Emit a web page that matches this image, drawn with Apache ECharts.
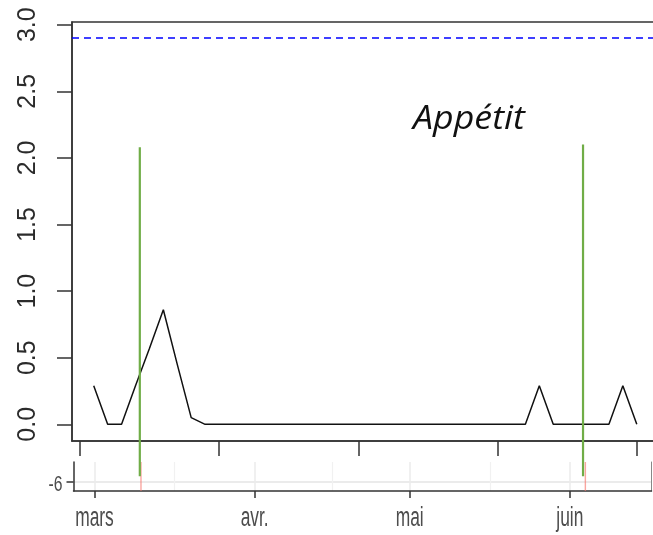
<!DOCTYPE html>
<html>
<head>
<meta charset="utf-8">
<script src="https://cdn.jsdelivr.net/npm/echarts@6/dist/echarts.min.js"></script>
<style>
html, body { margin: 0; padding: 0; background: #fff; }
#chart { width: 653px; height: 535px; }
</style>
</head>
<body>
<div id="chart"></div>
<script>
// Appetite score for each observation (index 1..40)
const obsIndex = Array.from({ length: 40 }, (_, i) => i + 1);
const appetite = [
  0.29, 0, 0, 0.29, 0.57, 0.86, 0.45, 0.05,
  0, 0, 0, 0, 0, 0, 0, 0, 0, 0, 0, 0, 0, 0, 0, 0, 0, 0, 0, 0, 0, 0, 0, 0,
  0.29, 0, 0, 0, 0, 0, 0.29, 0
];
const alertLevel = 2.9;

// Events marked on the upper panel (observation position, top of the marker)
const eventIndex = [4.31, 36.14];
const eventTop = [2.08, 2.1];
const eventBottom = -0.39;

// Upper panel ticks
const upperYTicks = [0, 0.5, 1, 1.5, 2, 2.5, 3];
const upperXTicks = [0, 10, 20, 30, 40];

// Lower time strip
const monthDates = ['2021-03-01', '2021-04-01', '2021-05-01', '2021-06-01'];
const monthLabels = ['mars', 'avr.', 'mai', 'juin'];
const midMonthDates = ['2021-03-16T12:00:00', '2021-04-16T00:00:00', '2021-05-16T12:00:00'];
const eventDates = ['2021-03-10', '2021-06-04'];
const stripYTicks = [-6];
const stripYTickLabels = ['-6'];

const ts = s => new Date(s.length === 10 ? s + 'T00:00:00' : s).getTime();
const DAY = 864e5;
const monthTs = monthDates.map(ts);
const stripMin = monthTs[0] - 4.06 * DAY;
const stripMax = monthTs[0] + 107.8 * DAY;
const stripYMin = -7, stripYMax = -4;

const chart = echarts.init(document.getElementById('chart'), null, { renderer: 'canvas' });

const series = [
  {
    type: 'line',
    xAxisIndex: 0, yAxisIndex: 0,
    data: obsIndex.map((x, i) => [x, appetite[i]]),
    showSymbol: false,
    lineStyle: { color: '#111', width: 1.5 },
    z: 4,
    markLine: {
      silent: true,
      symbol: ['none', 'none'],
      label: { show: false },
      lineStyle: { color: '#0000ff', type: [7, 5], width: 1.5 },
      data: [{ yAxis: alertLevel }]
    }
  }
];

// pale red event markers in the time strip
eventDates.forEach(d => {
  series.push({
    type: 'line',
    xAxisIndex: 1, yAxisIndex: 1,
    data: [[ts(d), stripYMin], [ts(d), stripYMax]],
    showSymbol: false,
    lineStyle: { color: 'rgba(248,118,109,0.65)', width: 1.4 },
    z: 3
  });
});

// green event markers reaching down from the upper panel
eventIndex.forEach((x, i) => {
  series.push({
    type: 'line',
    xAxisIndex: 0, yAxisIndex: 0,
    data: [[x, eventTop[i]], [x, eventBottom]],
    showSymbol: false,
    clip: false,
    lineStyle: { color: '#70AD47', width: 2.2 },
    z: 6
  });
});

chart.setOption({
  animation: false,
  backgroundColor: '#fff',
  grid: [
    { left: 72, top: 22, width: 586.5, height: 419, outerBoundsMode: 'none', show: true, borderColor: '#333', borderWidth: 1.5, backgroundColor: 'transparent' },
    { left: 73.5, top: 462, width: 578, height: 29, outerBoundsMode: 'none' }
  ],
  xAxis: [
    {
      type: 'value', gridIndex: 0, min: -0.56, max: 41.56,
      axisLine: { show: true, onZero: false, lineStyle: { color: '#333', width: 1.5 } },
      axisTick: { show: true, customValues: upperXTicks, length: 15, lineStyle: { color: '#333', width: 1.5 } },
      axisLabel: { show: false },
      splitLine: { show: false }
    },
    {
      // timestamps on a numeric axis; month names are drawn below as stretched text
      type: 'value', gridIndex: 1, min: stripMin, max: stripMax,
      axisLine: { show: true, onZero: false, lineStyle: { color: '#333', width: 1.5 } },
      axisTick: { show: true, customValues: monthTs, length: 7, lineStyle: { color: '#333', width: 1.5 } },
      axisLabel: { show: false, customValues: monthTs },
      splitLine: { show: true, lineStyle: { color: '#ebebeb', width: 1.5 } }
    },
    {
      type: 'value', gridIndex: 1, min: stripMin, max: stripMax,
      axisLine: { show: false },
      axisTick: { show: false, customValues: midMonthDates.map(ts) },
      axisLabel: { show: false, customValues: midMonthDates.map(ts) },
      splitLine: { show: true, lineStyle: { color: '#f1f1f1', width: 1.2 } }
    }
  ],
  yAxis: [
    {
      type: 'value', gridIndex: 0, min: -0.125, max: 3.02,
      axisLine: { show: true, onZero: false, lineStyle: { color: '#333', width: 1.5 } },
      axisTick: { show: true, customValues: upperYTicks, length: 15, lineStyle: { color: '#333', width: 1.5 } },
      axisLabel: {
        show: true, customValues: upperYTicks, rotate: 90, margin: 31,
        formatter: v => v.toFixed(1),
        fontFamily: '"Liberation Sans", Arial, sans-serif', fontSize: 25, color: '#2b2b2b'
      },
      splitLine: { show: false }
    },
    {
      type: 'value', gridIndex: 1, min: stripYMin, max: stripYMax,
      axisLine: { show: true, onZero: false, lineStyle: { color: '#333', width: 1.5 } },
      axisTick: { show: true, customValues: stripYTicks, length: 7, lineStyle: { color: '#333', width: 1.5 } },
      axisLabel: { show: false, customValues: stripYTicks },
      splitLine: { show: true, lineStyle: { color: '#ebebeb', width: 2 } }
    },
    {
      type: 'value', gridIndex: 1, position: 'right', min: stripYMin, max: stripYMax,
      axisLine: { show: true, onZero: false, lineStyle: { color: '#888', width: 1 } },
      axisTick: { show: false },
      axisLabel: { show: false },
      splitLine: { show: false }
    }
  ],
  series: series
});

// Tick labels of the time strip: tall, narrow lettering placed at the axis positions
const stripFont = '17.4px "Liberation Sans", Arial, sans-serif';
const stripTextColor = '#4d4d4d';
const stripAxisBottom = chart.convertToPixel({ yAxisIndex: 1 }, stripYMin);
const stripAxisLeft = chart.convertToPixel({ xAxisIndex: 1 }, stripMin);
const labelGraphics = [];
monthTs.forEach((t, i) => {
  labelGraphics.push({
    type: 'text',
    x: chart.convertToPixel({ xAxisIndex: 1 }, t),
    y: stripAxisBottom + 27,
    scaleX: 1, scaleY: 1.62,
    z: 10,
    style: { text: monthLabels[i], font: stripFont, fill: stripTextColor, align: 'center', verticalAlign: 'middle' }
  });
});
stripYTicks.forEach((v, i) => {
  labelGraphics.push({
    type: 'text',
    x: stripAxisLeft - 11,
    y: chart.convertToPixel({ yAxisIndex: 1 }, v) + 3,
    scaleX: 1, scaleY: 1.45,
    z: 10,
    style: { text: stripYTickLabels[i], font: '15.7px "Liberation Sans", Arial, sans-serif', fill: stripTextColor, align: 'right', verticalAlign: 'middle' }
  });
});
// panel title
labelGraphics.push({
  type: 'text', x: 413, y: 103, scaleX: 1.1, scaleY: 1, z: 10,
  style: { text: 'Appétit', font: 'italic 32.5px "Open Sans", Lato, sans-serif', fill: '#111', align: 'left', verticalAlign: 'top' }
});
chart.setOption({ graphic: labelGraphics });
</script>
</body>
</html>
